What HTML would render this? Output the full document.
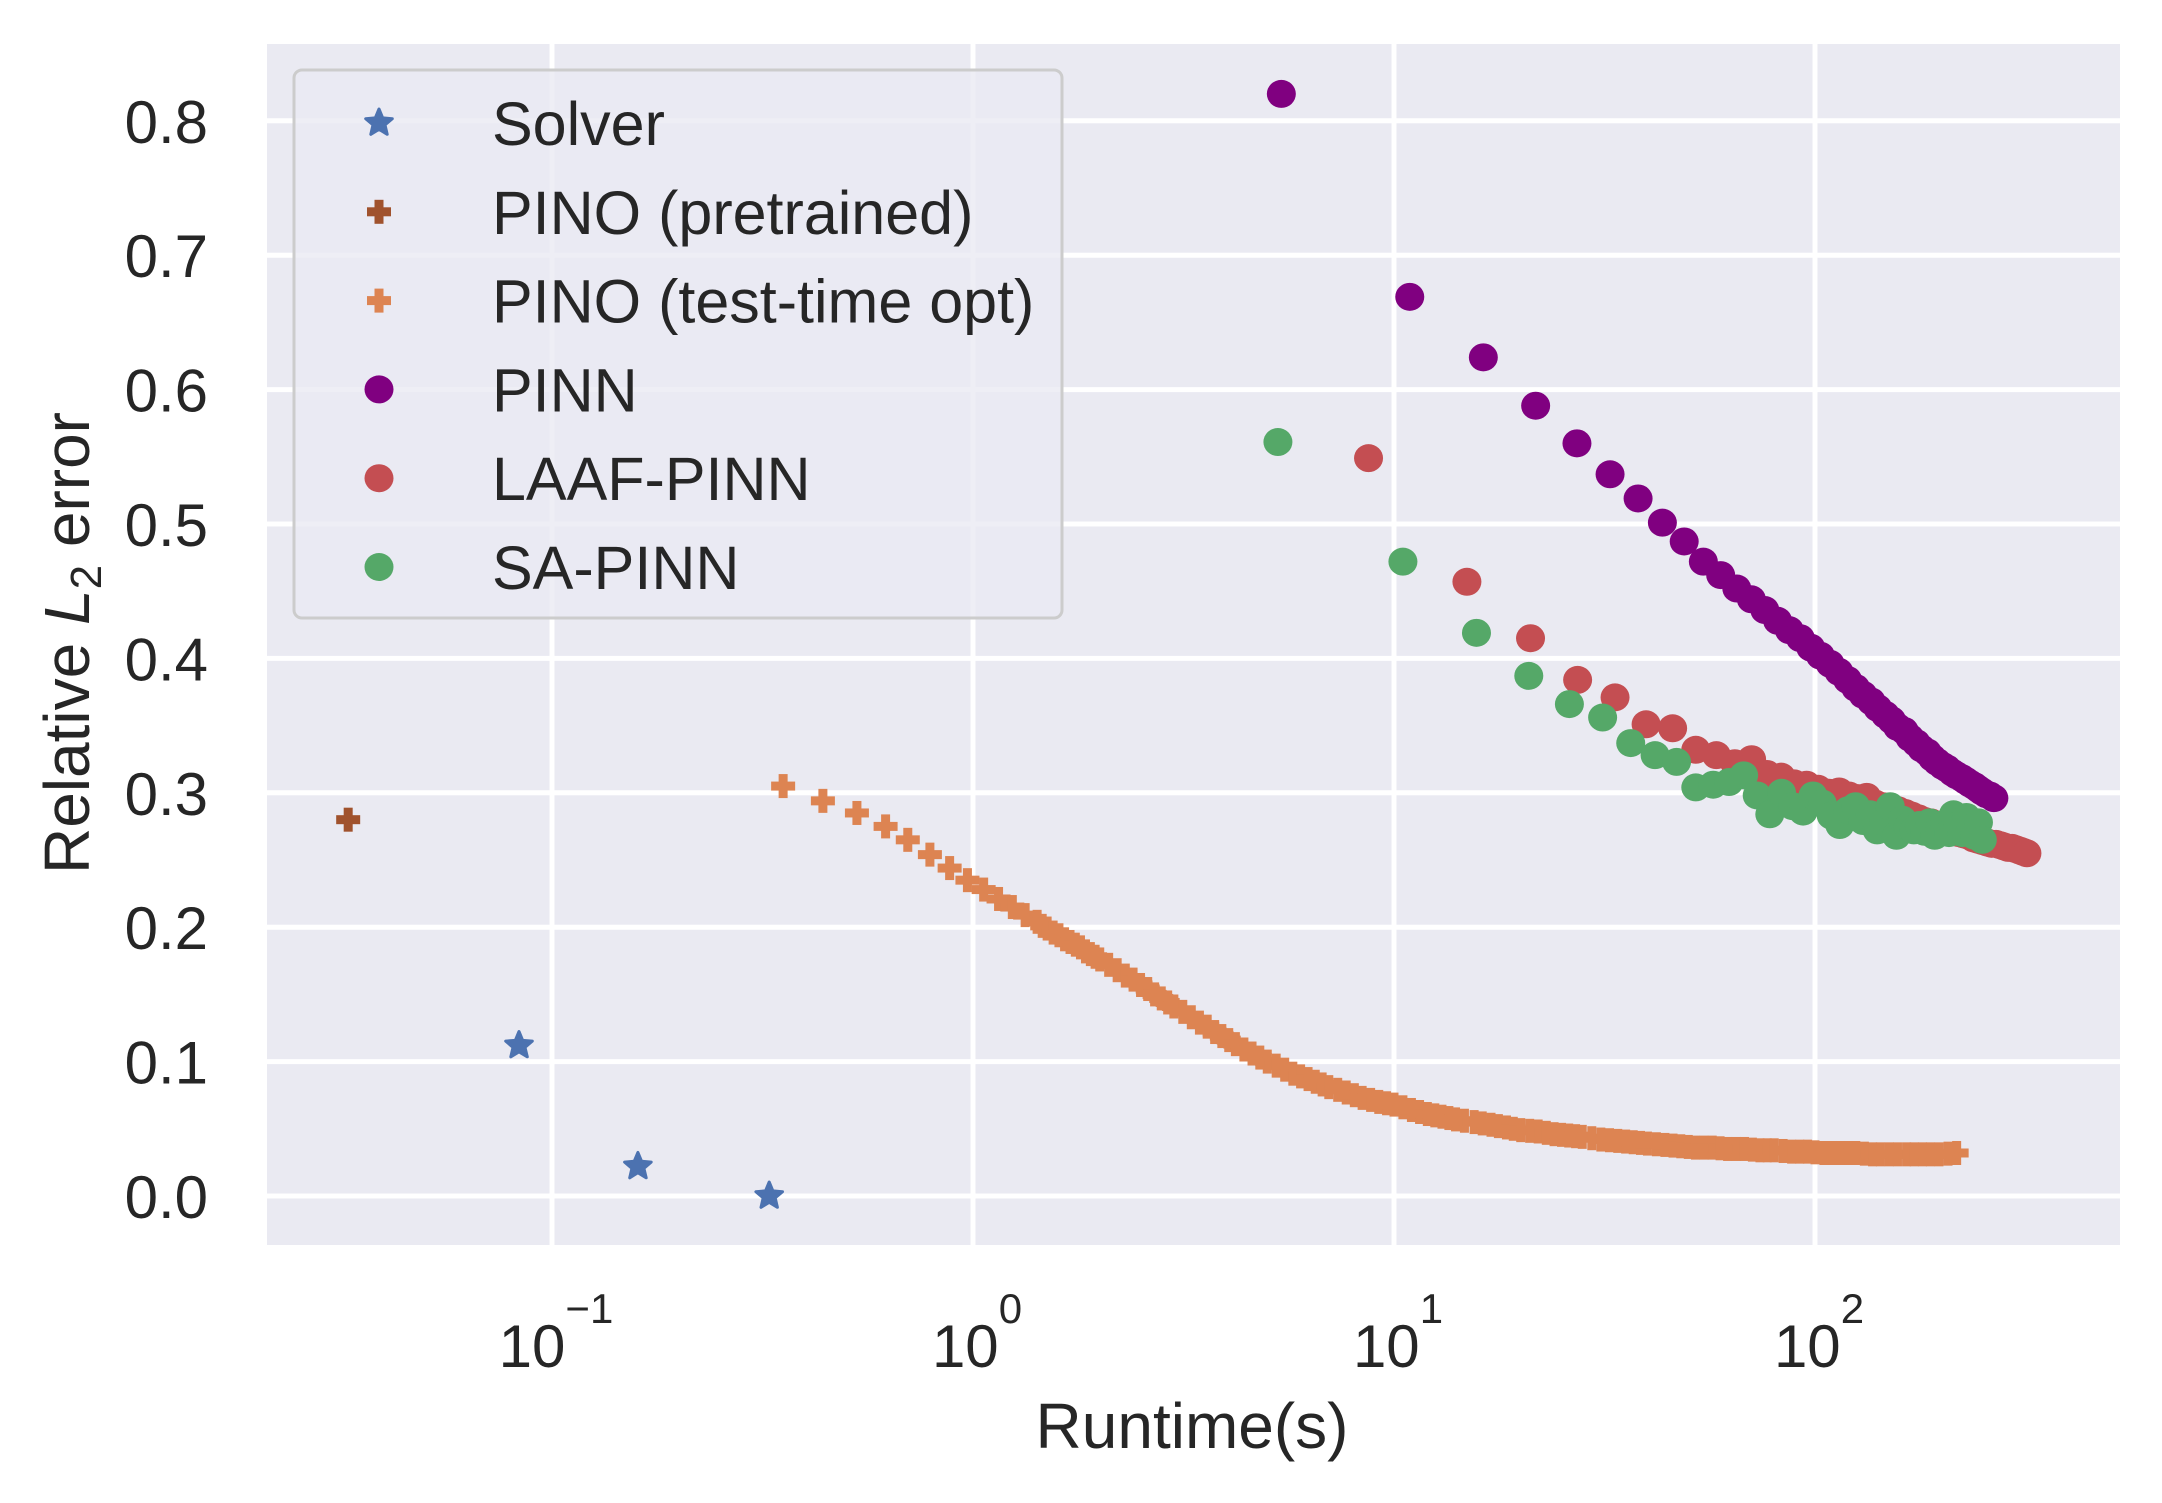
<!DOCTYPE html>
<html><head><meta charset="utf-8">
<style>
html,body{margin:0;padding:0;background:#fff;}
svg{display:block;}
text{font-family:"Liberation Sans",Arial,sans-serif;fill:#262626;}
</style></head>
<body>
<svg id="chart" width="2162" height="1503" viewBox="0 0 2162 1503" xmlns="http://www.w3.org/2000/svg">
<rect x="267" y="44" width="1853" height="1201" fill="#eaeaf2"/>
<g id="grid"></g>
<g id="ticks"></g>
<g id="marks"></g>
<text x="1192" y="1448" font-size="64" text-anchor="middle">Runtime(s)</text>
<text transform="translate(89,643) rotate(-90)" font-size="64" text-anchor="middle">Relative <tspan font-style="italic">L</tspan><tspan font-size="44" dy="12">2</tspan><tspan dy="-12"> error</tspan></text>
<g id="legend">
<rect x="294" y="70" width="768" height="548" rx="8" fill="#eaeaf2" fill-opacity="0.8" stroke="#cccccc" stroke-width="3"/>
</g>
</svg>
<script>
const yTicks = [0.0,0.1,0.2,0.3,0.4,0.5,0.6,0.7,0.8];
const yTickLabels = ["0.0","0.1","0.2","0.3","0.4","0.5","0.6","0.7","0.8"];
const xTickExps = [-1,0,1,2];
const xTickSups = ["\u22121","0","1","2"];

const solverT = [0.0835,0.16,0.328];
const solverY = [0.112,0.022,0.0];
const pinoPreT = [0.0328];
const pinoPreY = [0.280];
const pinoOptT = [0.354,0.44,0.53,0.62,0.70,0.79,0.88,0.97,1.06,1.15,1.24,1.33,1.42,1.46,1.5,1.55,1.6,1.65,1.7,1.75,1.8,1.85,1.9,1.95,2.0,2.1,2.2,2.3,2.4,2.5,2.6,2.7,2.8,2.9,3.0,3.15,3.3,3.45,3.6,3.75,3.9,4.05,4.2,4.4,4.6,4.8,5,5.25,5.5,5.75,6,6.25,6.5,6.75,7,7.35,7.7,8.05,8.4,8.8,9.2,9.6,10,10.5,11,11.5,12,12.5,13,13.5,14,14.7,15.5,16.2,17,17.7,18.5,19.2,20,21,22,23,24,25,26,27,28,29.5,31,32.5,34,35.5,37,38.5,40,42,44,46,48,50,52,54.5,57,59.5,62,65,68,71,74,77,80,84,88,92,96,100,105,110,115,120,125,131,137,143,150,157,165,172,180,188,197,207,217];
const pinoOptY = [0.305,0.294,0.285,0.275,0.265,0.254,0.244,0.235,0.228,0.221,0.215,0.209,0.204,0.201,0.199,0.196,0.194,0.191,0.189,0.187,0.185,0.182,0.180,0.178,0.176,0.172,0.168,0.164,0.161,0.157,0.154,0.150,0.147,0.144,0.141,0.137,0.133,0.129,0.126,0.122,0.119,0.116,0.113,0.109,0.106,0.103,0.100,0.097,0.094,0.091,0.089,0.087,0.085,0.083,0.081,0.079,0.077,0.075,0.073,0.0715,0.070,0.069,0.068,0.066,0.064,0.0625,0.061,0.060,0.059,0.058,0.057,0.056,0.055,0.054,0.053,0.052,0.051,0.050,0.049,0.0485,0.048,0.047,0.046,0.0455,0.045,0.0445,0.044,0.043,0.042,0.0415,0.041,0.0405,0.040,0.0395,0.039,0.0385,0.038,0.0375,0.037,0.0365,0.036,0.036,0.036,0.0355,0.035,0.035,0.035,0.0345,0.034,0.034,0.034,0.0335,0.033,0.033,0.033,0.0325,0.032,0.032,0.032,0.032,0.032,0.0315,0.031,0.031,0.031,0.031,0.031,0.031,0.031,0.031,0.031,0.0315,0.032];
const pinnT = [5.4,10.9,16.3,21.7,27.2,32.6,38.0,43.4,48.9,54.3,59.7,65.2,70.6,76.0,81.5,86.9,92.3,97.7,103,108.6,114,119.5,125,130,136,141,147,152,157,163,168,174,179,185,190,195,201,206,212,217,223,228,233,239,244,249,255,260,266];
const pinnY = [0.820,0.669,0.624,0.588,0.560,0.537,0.519,0.501,0.487,0.472,0.462,0.452,0.444,0.436,0.428,0.421,0.415,0.408,0.402,0.396,0.390,0.384,0.378,0.373,0.368,0.363,0.358,0.354,0.349,0.346,0.341,0.337,0.333,0.330,0.326,0.323,0.320,0.318,0.315,0.313,0.311,0.309,0.307,0.305,0.303,0.301,0.299,0.298,0.296];
const laafT = [8.7,14.9,21.1,27.3,33.5,39.7,45.9,52.1,58.3,64.5,70.7,76.9,83.1,89.3,95.5,101.7,107.9,114.1,120.3,126.5,132.7,138.9,145.1,151.3,157.5,163.7,169.9,176.1,182.3,188.5,194.7,200.9,207.1,213.3,219.5,225.7,231.9,238.1,244.3,250.5,256.7,262.9,269.1,275.3,281.5,287.7,293.9,300.1,306.3,312.5,318.7];
const laafY = [0.549,0.457,0.415,0.384,0.371,0.351,0.348,0.332,0.328,0.322,0.325,0.314,0.312,0.307,0.306,0.303,0.300,0.301,0.298,0.296,0.297,0.292,0.290,0.288,0.287,0.285,0.283,0.281,0.279,0.278,0.276,0.274,0.273,0.272,0.270,0.269,0.268,0.266,0.265,0.264,0.263,0.262,0.262,0.261,0.260,0.259,0.259,0.258,0.257,0.256,0.255];
const saT = [5.3,10.5,15.7,20.9,26.1,31.3,36.5,41.7,46.9,52.1,57.3,62.5,67.7,72.9,78.1,83.3,88.5,93.7,98.9,104.1,109.3,114.5,119.7,124.9,130.1,135.3,140.5,145.7,150.9,156.1,161.3,166.5,171.7,176.9,182.1,187.3,192.5,197.7,202.9,208.1,213.3,218.5,223.7,228.9,234.1,239.3,244.5,249.7];
const saY = [0.561,0.472,0.419,0.387,0.366,0.356,0.337,0.328,0.323,0.304,0.306,0.308,0.313,0.298,0.284,0.300,0.290,0.286,0.298,0.292,0.283,0.276,0.287,0.290,0.279,0.284,0.272,0.278,0.290,0.268,0.280,0.275,0.272,0.276,0.271,0.278,0.268,0.274,0.277,0.270,0.284,0.276,0.270,0.282,0.274,0.268,0.278,0.265];

const NS = "http://www.w3.org/2000/svg";
const X0 = 973, DEC = 421, Y0 = 1196, YU = 1344;
function xs(t){ return X0 + DEC*Math.log10(t); }
function ys(v){ return Y0 - YU*v; }
function mk(tag, attrs, parent){
  const e = document.createElementNS(NS, tag);
  for (const k in attrs) e.setAttribute(k, attrs[k]);
  parent.appendChild(e); return e;
}
const grid = document.getElementById('grid');
const ticks = document.getElementById('ticks');
const marks = document.getElementById('marks');

yTicks.forEach((v,i)=>{
  const l = mk('line',{x1:267,x2:2120,y1:ys(v),y2:ys(v),stroke:'#fff','stroke-width':5},grid);
  
  
  const t = mk('text',{x:208,y:ys(v)+22,'font-size':60,'text-anchor':'end'},ticks);
  t.textContent = yTickLabels[i];
  
  
});
xTickExps.forEach((e,i)=>{
  const x = X0 + DEC*e;
  const l = mk('line',{x1:x,x2:x,y1:44,y2:1245,stroke:'#fff','stroke-width':5},grid);
  
  
  const t = mk('text',{x:x+4,y:1367,'font-size':60,'text-anchor':'middle'},ticks);
  
  
  const a = mk('tspan',{},t); a.textContent='10';
  const b = mk('tspan',{'font-size':42,dy:-44},t); b.textContent = xTickSups[i];
});

function star(cx,cy,r,color,parent){
  let pts=[];
  for(let k=0;k<10;k++){
    const ang = -Math.PI/2 + k*Math.PI/5;
    const rr = k%2===0 ? r : r*0.45;
    pts.push((cx+rr*Math.cos(ang)).toFixed(1)+','+(cy+rr*Math.sin(ang)).toFixed(1));
  }
  return mk('polygon',{points:pts.join(' '),fill:color,stroke:color,'stroke-width':3,'stroke-linejoin':'round'},parent);
}
function plus(cx,cy,s,color,parent){
  const g = mk('g',{},parent);
  mk('rect',{x:cx-s/2,y:cy-4.5,width:s,height:9,fill:color},g);
  mk('rect',{x:cx-4.5,y:cy-s/2,width:9,height:s,fill:color},g);
  return g;
}
function circ(cx,cy,color,parent){
  return mk('ellipse',{cx:cx,cy:cy,rx:14.5,ry:14,fill:color},parent);
}
function draw(T,Y,name,fn){
  const g = mk('g',{},marks);
  
  
  const n = Math.min(T.length,Y.length);
  for(let i=0;i<n;i++){
    const e = fn(xs(T[i]),ys(Y[i]),g);
    
    
  }
}
draw(pinoOptT,pinoOptY,'pino-test-time-opt',(x,y,g)=>plus(x,y,24,'#dd8452',g));
draw(pinoPreT,pinoPreY,'pino-pretrained',(x,y,g)=>plus(x,y,24,'#a0522d',g));
draw(solverT,solverY,'solver',(x,y,g)=>star(x,y,14,'#4c72b0',g));
draw(pinnT,pinnY,'pinn',(x,y,g)=>circ(x,y,'#800080',g));
draw(laafT,laafY,'laaf-pinn',(x,y,g)=>circ(x,y,'#c44e52',g));
draw(saT,saY,'sa-pinn',(x,y,g)=>circ(x,y,'#55a868',g));

const legendLabels = ["Solver","PINO (pretrained)","PINO (test-time opt)","PINN","LAAF-PINN","SA-PINN"];
const legend = document.getElementById('legend');
legendLabels.forEach((lab,i)=>{
  const cy = 123 + i*88.8;
  const g = mk('g',{},legend);
  
  
  if(i===0) star(379,cy,14,'#4c72b0',g);
  else if(i===1) plus(379,cy,24,'#a0522d',g);
  else if(i===2) plus(379,cy,24,'#dd8452',g);
  else circ(379,cy,['#800080','#c44e52','#55a868'][i-3],g);
  const t = mk('text',{x:492,y:cy+22,'font-size':61},g);
  t.textContent = lab;
});
</script>
</body></html>
